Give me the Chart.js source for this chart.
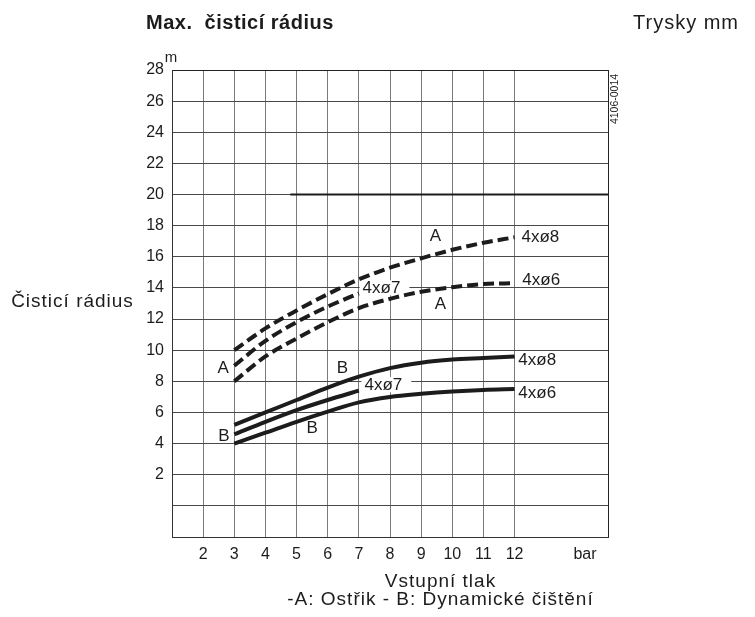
<!DOCTYPE html>
<html><head><meta charset="utf-8">
<script src="https://cdn.jsdelivr.net/npm/chart.js@4/dist/chart.umd.min.js"></script>
<style>html,body{margin:0;padding:0;background:#fff}#wrap{width:755px;height:617px;position:relative}</style>
</head><body><div id="wrap"><canvas id="c" width="755" height="617"></canvas></div>
<script>
// ---- data ----
const pressure = [3, 4, 5, 6, 7, 8, 9, 10, 11, 12];
const pressure7 = [3, 4, 5, 6, 7];
const sprayA8 = [10, 11.4, 12.55, 13.6, 14.55, 15.3, 15.9, 16.45, 16.9, 17.25];
const sprayA7 = [9, 10.6, 11.8, 12.8, 13.65];
const sprayA6 = [8, 9.6, 10.75, 11.8, 12.7, 13.3, 13.75, 14.05, 14.25, 14.3];
const dynB8 = [5.2, 6.0, 6.8, 7.6, 8.3, 8.85, 9.2, 9.4, 9.5, 9.6];
const dynB7 = [4.6, 5.4, 6.15, 6.8, 7.4];
const dynB6 = [4.0, 4.7, 5.4, 6.05, 6.65, 7.0, 7.2, 7.35, 7.45, 7.5];
const limitX = [4.8, 15];
const limitY = [20, 20];
const xTickValues = [1, 2, 3, 4, 5, 6, 7, 8, 9, 10, 11, 12, 14.26, 15];
const xUnitTick = 14.26;
const xUnitLabel = 'bar';
const yMin = -2, yMax = 28, yStep = 2;
const curveLabels = [
  {text: 'A', x: 2.64, y: 8.85}, {text: 'A', x: 9.46, y: 17.3}, {text: 'A', x: 9.62, y: 12.95},
  {text: 'B', x: 2.67, y: 4.5}, {text: 'B', x: 6.47, y: 8.85}, {text: 'B', x: 5.5, y: 4.95},
  {text: '4xø8', x: 12.22, y: 17.25, left: true}, {text: '4xø6', x: 12.25, y: 14.5, left: true},
  {text: '4xø7', x: 7.12, y: 13.98, left: true, box: true},
  {text: '4xø8', x: 12.12, y: 9.35, left: true}, {text: '4xø6', x: 12.12, y: 7.2, left: true},
  {text: '4xø7', x: 7.18, y: 7.75, left: true, box: true}
];

const pts = (xs, ys) => xs.map((x, i) => ({x: x, y: ys[i]}));
const FONT = '"Liberation Sans", Arial, sans-serif';
const INK = '#1c1c1c';

const solid = (d) => ({data: d, borderColor: INK, borderWidth: 4, pointRadius: 0, fill: false, cubicInterpolationMode: 'monotone', borderCapStyle: 'butt'});
const dashed = (d) => Object.assign(solid(d), {borderDash: [11, 5]});

function spaced(ctx, text, x, y, spacing, align) {
  ctx.letterSpacing = spacing + 'px';
  let w = ctx.measureText(text).width - spacing;
  let sx = align === 'center' ? x - w / 2 : x;
  ctx.textAlign = 'left';
  ctx.fillText(text, sx, y);
  ctx.letterSpacing = '0px';
}

const labelPlugin = {
  id: 'labels',
  beforeDatasetsDraw(chart) {
    const {ctx, scales: {x, y}} = chart;
    ctx.save();
    ctx.font = '17px ' + FONT;
    ctx.fillStyle = INK;
    ctx.textBaseline = 'middle';
    curveLabels.forEach(l => {
      const px = x.getPixelForValue(l.x), py = y.getPixelForValue(l.y);
      ctx.textAlign = l.left ? 'left' : 'center';
      if (l.box) {
        const w = ctx.measureText(l.text).width;
        ctx.fillStyle = '#fff';
        ctx.fillRect(px - 3, py - 8, w + 12, 15);
        ctx.fillStyle = INK;
      }
      ctx.fillText(l.text, px, py);
    });
    ctx.restore();
  },
  afterDraw(chart) {
    const {ctx} = chart;
    ctx.save();
    ctx.fillStyle = INK;
    ctx.textBaseline = 'alphabetic';
    ctx.font = 'bold 20px ' + FONT;
    spaced(ctx, 'Max.  čisticí rádius', 146, 29, 0.5, 'left');
    ctx.font = '20px ' + FONT;
    spaced(ctx, 'Trysky mm', 633, 29, 1, 'left');
    ctx.font = '19px ' + FONT;
    spaced(ctx, 'Čisticí rádius', 72, 307, 1, 'center');
    ctx.font = '15px ' + FONT;
    ctx.textAlign = 'center';
    ctx.fillText('m', 171, 62);
    ctx.font = '19px ' + FONT;
    spaced(ctx, 'Vstupní tlak', 440, 587, 1, 'center');
    spaced(ctx, '-A: Ostřik - B: Dynamické čištění', 440, 605, 1, 'center');
    ctx.translate(615, 99);
    ctx.rotate(-Math.PI / 2);
    ctx.font = '10.5px ' + FONT;
    ctx.textAlign = 'center';
    ctx.textBaseline = 'middle';
    ctx.fillText('4106-0014', 0, 0);
    ctx.restore();
  }
};

new Chart(document.getElementById('c'), {
  type: 'line',
  data: {
    datasets: [
      dashed(pts(pressure, sprayA8)),
      dashed(pts(pressure7, sprayA7)),
      dashed(pts(pressure, sprayA6)),
      solid(pts(pressure, dynB8)),
      solid(pts(pressure7, dynB7)),
      solid(pts(pressure, dynB6)),
      {data: pts(limitX, limitY), borderColor: INK, borderWidth: 2, pointRadius: 0, fill: false}
    ]
  },
  options: {
    responsive: false,
    animation: false,
    layout: {padding: {left: 112, right: 147, top: 70, bottom: 40}},
    plugins: {legend: {display: false}, tooltip: {enabled: false}},
    scales: {
      x: {
        type: 'linear', min: 1, max: 15,
        afterBuildTicks: (axis) => { axis.ticks = xTickValues.map(v => ({value: v})); },
        afterFit: (s) => { s.height = 40; },
        ticks: {
          autoSkip: false, maxRotation: 0, padding: 8, color: INK,
          font: {family: FONT, size: 16},
          callback: (v) => (v === xTickValues[0] || v === xTickValues[xTickValues.length - 1]) ? '' : (v === xUnitTick ? xUnitLabel : v)
        },
        grid: {
          drawTicks: false,
          color: (c) => c.tick && c.tick.value === xUnitTick ? 'rgba(0,0,0,0)' : (c.tick && c.tick.value === 15 ? '#222' : '#7a7a7a'),
          lineWidth: 1
        },
        border: {color: '#333', width: 1}
      },
      y: {
        type: 'linear', min: yMin, max: yMax,
        afterFit: (s) => { s.width = 60; },
        ticks: {
          stepSize: yStep, padding: 8, color: INK,
          font: {family: FONT, size: 16},
          callback: (v) => v > 0 ? v : ''
        },
        grid: {
          drawTicks: false,
          color: (c) => c.tick && c.tick.value === yMax ? '#222' : '#4a4a4a',
          lineWidth: 1
        },
        border: {color: '#333', width: 1}
      }
    }
  },
  plugins: [labelPlugin]
});
</script>
</body></html>
